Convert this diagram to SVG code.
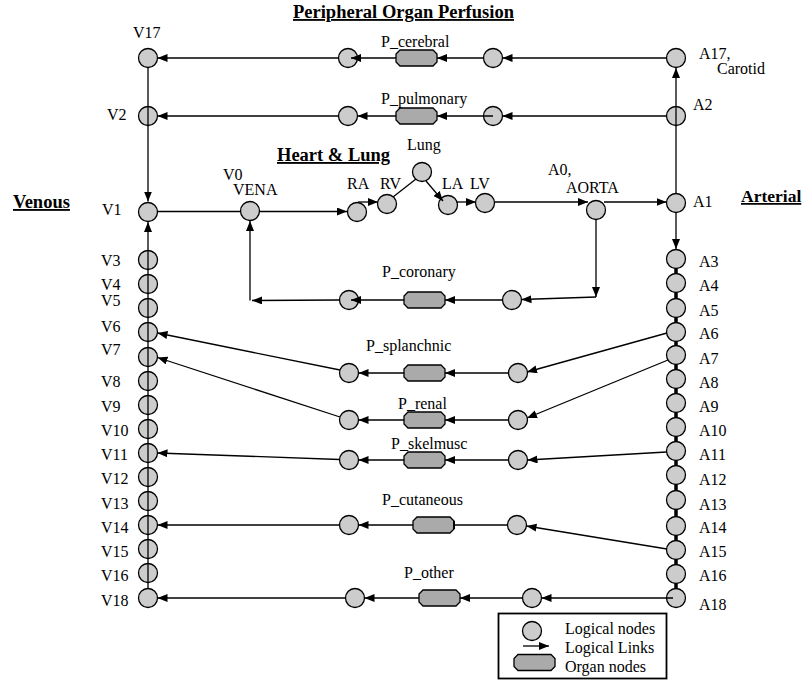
<svg xmlns="http://www.w3.org/2000/svg" width="804" height="682" viewBox="0 0 804 682">
<style>
.n{fill:#cccccc;stroke:#000;stroke-width:1.3}
.o{fill:#aaaaaa;stroke:#000;stroke-width:1.3}
.l{stroke:#000;stroke-width:1.3;fill:none}
.a{stroke:#000;stroke-width:1.3;fill:none;marker-end:url(#ah)}
text{font-family:'Liberation Serif','DejaVu Serif','Times New Roman',serif;fill:#000}
.t{font-size:16px}
.b{font-size:18.5px;font-weight:bold;text-decoration:underline}
</style>
<defs>
<marker id="ah" markerUnits="userSpaceOnUse" markerWidth="11" markerHeight="9" refX="10" refY="4" orient="auto"><path d="M0,0 L10,4 L0,8 Z" fill="#000"/></marker>
<marker id="bar" markerUnits="userSpaceOnUse" markerWidth="4" markerHeight="10" refX="1" refY="5" orient="auto"><path d="M0,1 H2 V9 H0 Z" fill="#000"/></marker>
<path id="org" d="M4,-8 H37 L41,-4 V4 L37,8 H4 L0,4 V-4 Z"/>
</defs>

<g id="titles">
<text class="b" x="293" y="18">Peripheral Organ Perfusion</text>
<text class="b" x="277" y="161">Heart &amp; Lung</text>
<text class="b" x="13" y="208">Venous</text>
<text class="b" x="741" y="202" style="font-size:17.5px">Arterial</text>
</g>

<g id="arterial-chain">
<path d="M676,268.5V273.5 M676,292.5V298.5 M676,317.5V322.5 M676,341.5V345.5 M676,364.5V369.5 M676,388.5V393.5 M676,412.5V417.5 M676,436.5V441.5 M676,460.5V465.5 M676,484.5V490.5 M676,509.5V516.5 M676,535.5V540.5 M676,559.5V564.5 M676,583.5V588.5" stroke="#000" stroke-width="3.5" fill="none"/>
</g>

<g id="V17"><circle class="n" cx="148" cy="58" r="9.5"/><text class="t" x="133" y="38">V17</text></g>
<g id="V2"><circle class="n" cx="148" cy="116" r="9.5"/><text class="t" x="107" y="120">V2</text></g>
<g id="V1"><circle class="n" cx="148" cy="212" r="9.5"/><text class="t" x="102" y="215">V1</text></g>
<g id="V3"><circle class="n" cx="148" cy="260" r="9.5"/><text class="t" x="101" y="266">V3</text></g>
<g id="V4"><circle class="n" cx="148" cy="284" r="9.5"/><text class="t" x="101" y="290">V4</text></g>
<g id="V5"><circle class="n" cx="148" cy="308" r="9.5"/><text class="t" x="101" y="306">V5</text></g>
<g id="V6"><circle class="n" cx="148" cy="332" r="9.5"/><text class="t" x="101" y="332">V6</text></g>
<g id="V7"><circle class="n" cx="148" cy="357" r="9.5"/><text class="t" x="101" y="355">V7</text></g>
<g id="V8"><circle class="n" cx="148" cy="381" r="9.5"/><text class="t" x="101" y="387">V8</text></g>
<g id="V9"><circle class="n" cx="148" cy="405" r="9.5"/><text class="t" x="101" y="412">V9</text></g>
<g id="V10"><circle class="n" cx="148" cy="429" r="9.5"/><text class="t" x="101" y="436">V10</text></g>
<g id="V11"><circle class="n" cx="148" cy="453" r="9.5"/><text class="t" x="101" y="460">V11</text></g>
<g id="V12"><circle class="n" cx="148" cy="477" r="9.5"/><text class="t" x="101" y="484">V12</text></g>
<g id="V13"><circle class="n" cx="148" cy="501" r="9.5"/><text class="t" x="101" y="509">V13</text></g>
<g id="V14"><circle class="n" cx="148" cy="525" r="9.5"/><text class="t" x="101" y="533">V14</text></g>
<g id="V15"><circle class="n" cx="148" cy="549" r="9.5"/><text class="t" x="101" y="557">V15</text></g>
<g id="V16"><circle class="n" cx="148" cy="573" r="9.5"/><text class="t" x="101" y="581">V16</text></g>
<g id="V18"><circle class="n" cx="148" cy="598" r="9.5"/><text class="t" x="101" y="606">V18</text></g>

<g id="A17"><circle class="n" cx="676" cy="58" r="9.5"/><text class="t" x="699" y="59">A17,</text><text class="t" x="717" y="74">Carotid</text></g>
<g id="A2"><circle class="n" cx="676" cy="116" r="9.5"/><text class="t" x="693" y="110">A2</text></g>
<g id="A1"><circle class="n" cx="676" cy="203" r="9.5"/><text class="t" x="693" y="207">A1</text></g>
<g id="A3"><circle class="n" cx="676" cy="259" r="9.5"/><text class="t" x="699" y="267">A3</text></g>
<g id="A4"><circle class="n" cx="676" cy="283" r="9.5"/><text class="t" x="699" y="291">A4</text></g>
<g id="A5"><circle class="n" cx="676" cy="308" r="9.5"/><text class="t" x="699" y="316">A5</text></g>
<g id="A6"><circle class="n" cx="676" cy="332" r="9.5"/><text class="t" x="699" y="339">A6</text></g>
<g id="A7"><circle class="n" cx="676" cy="355" r="9.5"/><text class="t" x="699" y="364">A7</text></g>
<g id="A8"><circle class="n" cx="676" cy="379" r="9.5"/><text class="t" x="699" y="388">A8</text></g>
<g id="A9"><circle class="n" cx="676" cy="403" r="9.5"/><text class="t" x="699" y="412">A9</text></g>
<g id="A10"><circle class="n" cx="676" cy="427" r="9.5"/><text class="t" x="699" y="436">A10</text></g>
<g id="A11"><circle class="n" cx="676" cy="451" r="9.5"/><text class="t" x="699" y="460">A11</text></g>
<g id="A12"><circle class="n" cx="676" cy="475" r="9.5"/><text class="t" x="699" y="485">A12</text></g>
<g id="A13"><circle class="n" cx="676" cy="500" r="9.5"/><text class="t" x="699" y="510">A13</text></g>
<g id="A14"><circle class="n" cx="676" cy="526" r="9.5"/><text class="t" x="699" y="533">A14</text></g>
<g id="A15"><circle class="n" cx="676" cy="550" r="9.5"/><text class="t" x="699" y="557">A15</text></g>
<g id="A16"><circle class="n" cx="676" cy="574" r="9.5"/><text class="t" x="699" y="581">A16</text></g>
<g id="A18"><circle class="n" cx="676" cy="598" r="9.5"/><text class="t" x="699" y="610">A18</text></g>

<g id="V0"><circle class="n" cx="250" cy="211" r="9.5"/><text class="t" x="223" y="180">V0</text><text class="t" x="233" y="195">VENA</text></g>
<g id="RA"><circle class="n" cx="357" cy="212" r="9.5"/><text class="t" x="347" y="189">RA</text></g>
<g id="RV"><circle class="n" cx="387" cy="204" r="9.5"/><text class="t" x="380" y="189">RV</text></g>
<g id="Lung"><circle class="n" cx="422" cy="172" r="9.5"/><text class="t" x="407" y="150">Lung</text></g>
<g id="LA"><circle class="n" cx="448" cy="205" r="9.5"/><text class="t" x="442" y="189">LA</text></g>
<g id="LV"><circle class="n" cx="485" cy="203" r="9.5"/><text class="t" x="470" y="189">LV</text></g>
<g id="A0"><circle class="n" cx="596" cy="210" r="9.5"/><text class="t" x="548" y="175">A0,</text><text class="t" x="566" y="193">AORTA</text></g>

<g id="cerebral"><circle class="n" cx="348" cy="58" r="9.5"/><use href="#org" class="o" x="396" y="58"/><circle class="n" cx="493" cy="58" r="9.5"/><text class="t" x="381" y="47">P_cerebral</text></g>
<g id="pulmonary"><circle class="n" cx="348" cy="116" r="9.5"/><use href="#org" class="o" x="396" y="116"/><circle class="n" cx="493" cy="116" r="9.5"/><text class="t" x="381" y="104">P_pulmonary</text></g>
<g id="coronary"><circle class="n" cx="349" cy="300" r="9.5"/><use href="#org" class="o" x="404" y="300"/><circle class="n" cx="512" cy="300" r="9.5"/><text class="t" x="382" y="277">P_coronary</text></g>
<g id="splanchnic"><circle class="n" cx="349" cy="373" r="9.5"/><use href="#org" class="o" x="404" y="373"/><circle class="n" cx="518" cy="373" r="9.5"/><text class="t" x="366" y="351">P_splanchnic</text></g>
<g id="renal"><circle class="n" cx="349" cy="420" r="9.5"/><use href="#org" class="o" x="404" y="420"/><circle class="n" cx="518" cy="420" r="9.5"/><text class="t" x="398" y="409">P_renal</text></g>
<g id="skelmusc"><circle class="n" cx="349" cy="460" r="9.5"/><use href="#org" class="o" x="404" y="460"/><circle class="n" cx="518" cy="460" r="9.5"/><text class="t" x="391" y="449">P_skelmusc</text></g>
<g id="cutaneous"><circle class="n" cx="349" cy="525" r="9.5"/><use href="#org" class="o" x="413" y="525"/><circle class="n" cx="517" cy="525" r="9.5"/><text class="t" x="382" y="505">P_cutaneous</text></g>
<g id="other"><circle class="n" cx="355" cy="598" r="9.5"/><use href="#org" class="o" x="419" y="598"/><circle class="n" cx="532" cy="598" r="9.5"/><text class="t" x="404" y="578">P_other</text></g>

<g id="connectors">
<line class="a" x1="148" y1="67.5" x2="148" y2="201.5"/>
<line class="a" x1="148" y1="588.5" x2="148" y2="222"/>
<line class="a" x1="676" y1="193.5" x2="676" y2="68"/>
<line class="a" x1="676" y1="212.5" x2="676" y2="249"/>
<line class="a" x1="666.5" y1="58" x2="502.5" y2="58"/>
<line class="a" x1="483.5" y1="58" x2="437" y2="58"/>
<line class="a" x1="396" y1="58" x2="351" y2="58"/>
<line class="a" x1="338.5" y1="58" x2="157.5" y2="58"/>
<line class="a" x1="666.5" y1="116" x2="502.5" y2="116"/>
<line class="a" x1="493" y1="116" x2="437" y2="116"/>
<line class="a" x1="396" y1="116" x2="357.5" y2="116"/>
<line class="a" x1="338.5" y1="116" x2="157.5" y2="116"/>
<line class="l" x1="157.5" y1="211.5" x2="240.5" y2="211.5"/>
<line class="a" x1="259.5" y1="211.5" x2="347" y2="211.5"/>
<line class="a" x1="358" y1="202" x2="378" y2="202"/>
<line class="l" x1="393" y1="197" x2="416" y2="179"/>
<line class="a" x1="426" y1="181" x2="443" y2="201"/>
<line class="a" x1="456" y1="202" x2="476" y2="202"/>
<line class="a" x1="494.5" y1="202" x2="588" y2="202"/>
<line class="a" x1="604" y1="202" x2="666.5" y2="202"/>
<line class="a" x1="596" y1="219.5" x2="596" y2="297"/>
<line class="a" x1="596" y1="297" x2="521.5" y2="299.5"/>
<line class="a" x1="502.5" y1="300" x2="445" y2="300"/>
<line class="a" x1="404" y1="300" x2="351" y2="300"/>
<line class="a" x1="339.5" y1="300" x2="252" y2="300.5"/>
<line class="a" x1="250" y1="300.5" x2="250" y2="221"/>
<line class="a" x1="667" y1="333" x2="527" y2="372"/>
<line class="a" x1="508.5" y1="373" x2="445" y2="373"/>
<line class="a" x1="404" y1="373" x2="358.5" y2="373"/>
<line class="a" x1="340" y1="370" x2="157.5" y2="333"/>
<line class="a" x1="668" y1="360" x2="527" y2="418"/>
<line class="a" x1="508.5" y1="420" x2="445" y2="420"/>
<line class="a" x1="404" y1="420" x2="358.5" y2="420"/>
<line class="a" x1="340" y1="417" x2="157.5" y2="357.5"/>
<line class="a" x1="666.5" y1="452" x2="527.5" y2="460"/>
<line class="a" x1="508.5" y1="460" x2="445" y2="460"/>
<line class="a" x1="404" y1="460" x2="358.5" y2="460"/>
<line class="a" x1="339.5" y1="459.5" x2="157.5" y2="453"/>
<line class="a" x1="667" y1="549" x2="526.5" y2="526"/>
<line class="l" x1="507.5" y1="525" x2="454" y2="525" marker-end="url(#bar)"/>
<line class="a" x1="413" y1="525" x2="358.5" y2="525"/>
<line class="a" x1="339.5" y1="525" x2="157.5" y2="525"/>
<line class="a" x1="673" y1="598" x2="541.5" y2="598"/>
<line class="a" x1="522.5" y1="598" x2="460" y2="598"/>
<line class="a" x1="419" y1="598" x2="364.5" y2="598"/>
<line class="a" x1="345.5" y1="598" x2="157.5" y2="598"/>
</g>

<g id="legend">
<rect x="498.5" y="613.5" width="168" height="65" fill="#fff" stroke="#000" stroke-width="1.8"/>
<circle class="n" cx="532" cy="631" r="9.5"/>
<line class="a" x1="523" y1="646" x2="549" y2="646"/>
<use href="#org" class="o" x="514" y="662.5"/>
<text class="t" x="565" y="634">Logical nodes</text>
<text class="t" x="565" y="653">Logical Links</text>
<text class="t" x="565" y="672">Organ nodes</text>
</g>
</svg>
